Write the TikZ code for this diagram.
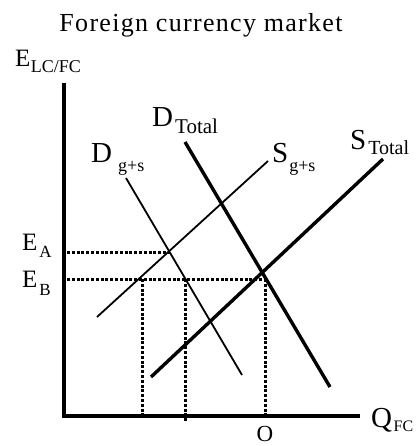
\documentclass[tikz,border=0pt]{standalone}
\usepackage{fontspec}
\setmainfont{Liberation Serif}
\usetikzlibrary{positioning}

\newcommand{\bigletter}{\fontsize{29}{29}\selectfont}
\newcommand{\midletter}{\fontsize{25}{25}\selectfont}
\newcommand{\sublbl}[4]{\hspace{#1pt}\raisebox{-#2pt}{\fontsize{#3}{#3}\selectfont #4}}

\begin{document}
\begin{tikzpicture}[
    x=1pt, y=-1pt,
    axis/.style={line width=4.5pt},
    curve/.style={line width=1.8pt},
    thickcurve/.style={line width=3.4pt},
    guide/.style={line width=3pt, dash pattern=on 3pt off 1.8pt},
    lbl/.style={inner sep=0pt, anchor=base west}
]
\useasboundingbox (0,0) rectangle (418,446);

% Title
\node[inner sep=0pt, anchor=base] (title) at (201,32)
    {\fontsize{26}{26}\selectfont\addfontfeature{LetterSpace=5}Foreign currency market};

% Axes
\coordinate (origin) at (64,416);
\coordinate (ytop) at (64,83);
\coordinate (xend) at (360,416);
\draw[axis] (ytop) |- (xend);

% Curves
\coordinate (dgs top) at (126,178);
\coordinate (dgs bot) at (242,375);
\coordinate (sgs bot) at (97,317);
\coordinate (sgs top) at (268,161);
\coordinate (dtot top) at (185,142);
\coordinate (dtot bot) at (330,387);
\coordinate (stot bot) at (151,377);
\coordinate (stot top) at (383,159);
\draw[curve] (dgs top) -- (dgs bot);
\draw[curve] (sgs bot) -- (sgs top);
\draw[thickcurve] (dtot top) -- (dtot bot);
\draw[thickcurve] (stot bot) -- (stot top);

% Equilibrium guides
\coordinate (ea start) at (67,252);
\coordinate (eqA) at (170,252);
\coordinate (eb start) at (67,279);
\coordinate (eqB) at (265,279);
\coordinate (q1) at (142,279);
\coordinate (q1 axis) at (142,416);
\coordinate (q2) at (185,279);
\coordinate (q2 axis) at (185,422);
\coordinate (q3 axis) at (265,416);
\draw[guide] (ea start) -- (eqA);
\draw[guide] (eb start) -- (eqB);
\draw[guide] (q1) -- (q1 axis);
\draw[guide] (q2) -- (q2 axis);
\draw[guide] (eqB) -- (q3 axis);

% Labels
\node[lbl] (ylabel) at (15,67) {\midletter E\sublbl{0.5}{6}{18}{LC/FC}};
\node[lbl] (dtot lbl) at (152,127) {\bigletter D\sublbl{2}{7}{21}{Total}};
\node[lbl] (dgs lbl) at (91,163) {\bigletter D\sublbl{6}{9}{18}{g+s}};
\node[lbl] (sgs lbl) at (272,163) {\bigletter S\sublbl{1}{9}{18}{g+s}};
\node[lbl] (stot lbl) at (350,150) {\bigletter S\sublbl{2}{5}{20}{Total}};
\node[lbl] (ea lbl) at (22,250) {\midletter E\sublbl{2}{7}{17}{A}};
\node[lbl] (eb lbl) at (22,287) {\midletter E\sublbl{2}{8}{17}{B}};
\node[lbl] (xlabel) at (371,427) {\bigletter Q\sublbl{1.5}{4}{16}{FC}};
\node[inner sep=0pt, anchor=base] (olbl) at (265,441) {\fontsize{23}{23}\selectfont O};

\end{tikzpicture}
\end{document}
